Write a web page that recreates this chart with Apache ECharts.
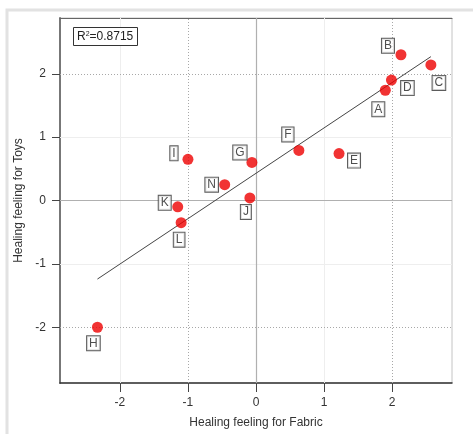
<!DOCTYPE html>
<html>
<head>
<meta charset="utf-8">
<script src="https://cdn.jsdelivr.net/npm/echarts@6/dist/echarts.min.js"></script>
<style>html,body{margin:0;padding:0;background:#fff}#c{width:473px;height:434px}</style>
</head>
<body>
<div id="c"></div>
<script>
// ---- data ----
var names   = ['A', 'B', 'C', 'D', 'E', 'F', 'G', 'H', 'I', 'J', 'K', 'L', 'N'];
var fabric  = [1.90, 2.13, 2.57, 1.99, 1.22, 0.63, -0.06, -2.33, -1.00, -0.09, -1.15, -1.10, -0.46];
var toys    = [1.74, 2.30, 2.14, 1.90, 0.74, 0.79, 0.60, -2.00, 0.65, 0.04, -0.10, -0.35, 0.25];
var fitX    = [-2.33, 2.57];
var fitY    = [-1.24, 2.27];
var xTicks  = [-2, -1, 0, 1, 2];
var yTicks  = [-2, -1, 0, 1, 2];
var rSquared = '0.8715';

// ---- layout / style (not data) ----
var labelOffsets = {
  A: [-7, 19], B: [-13, -9], C: [8, 18], D: [16, 8], E: [15, 7], F: [-11, -16],
  G: [-12, -10], H: [-4, 16], I: [-14, -6], J: [-4, 14], K: [-13, -4], L: [-2, 17], N: [-13, 0]
};
var dottedX = [-1, 2], faintX = [-2, 1];
var dottedY = [-2, 2], faintY = [-1, 1];

var font = 'Liberation Sans, Arial, sans-serif';
var chart = echarts.init(document.getElementById('c'), null, {renderer: 'canvas'});

var pts = names.map(function (n, i) {
  return {name: n, value: [fabric[i], toys[i]], label: {offset: labelOffsets[n]}};
});

var gridLines = [];
dottedX.forEach(function (v) { gridLines.push({xAxis: v, lineStyle: {color: '#a8a8a8', type: [1, 2], width: 1}}); });
faintX.forEach(function (v) { gridLines.push({xAxis: v, lineStyle: {color: '#eeeeee', type: 'solid', width: 1}}); });
dottedY.forEach(function (v) { gridLines.push({yAxis: v, lineStyle: {color: '#a8a8a8', type: [1, 2], width: 1}}); });
faintY.forEach(function (v) { gridLines.push({yAxis: v, lineStyle: {color: '#eeeeee', type: 'solid', width: 1}}); });
gridLines.push({xAxis: 0, lineStyle: {color: '#b0b0b0', type: 'solid', width: 1.2}});
gridLines.push({yAxis: 0, lineStyle: {color: '#b0b0b0', type: 'solid', width: 1.2}});

var axisCommon = {
  type: 'value', min: -2.88, max: 2.88,
  splitLine: {show: false},
  nameLocation: 'middle',
  nameTextStyle: {fontFamily: font, fontSize: 12, color: '#333'}
};

chart.setOption({
  animation: false,
  backgroundColor: '#fff',
  graphic: [{
    type: 'rect', z: -10,
    shape: {x: 7, y: 10, width: 520, height: 480},
    style: {fill: 'none', stroke: '#e2e2e2', lineWidth: 3}
  }],
  title: {
    text: 'R{s|2}=' + rSquared,
    left: 73, top: 27,
    padding: [4, 4, 3, 4],
    borderColor: '#333', borderWidth: 1, backgroundColor: '#fff',
    textStyle: {
      fontFamily: font, fontSize: 12, fontWeight: 'normal', color: '#222',
      rich: {s: {fontSize: 7, verticalAlign: 'top', padding: [0, 0, 5, 0], fontFamily: font, color: '#222'}}
    }
  },
  grid: {left: 60, top: 18, width: 392, height: 365, show: true, borderColor: '#c4c4c4', borderWidth: 1},
  xAxis: [
    Object.assign({}, axisCommon, {
      position: 'bottom',
      name: 'Healing feeling for Fabric', nameGap: 34,
      axisLine: {show: true, onZero: false, lineStyle: {color: '#333', width: 1.5}},
      axisTick: {show: true, inside: false, length: 9, customValues: xTicks, lineStyle: {color: '#444', width: 1}},
      axisLabel: {customValues: xTicks, margin: 14, fontFamily: font, fontSize: 12, color: '#333'}
    }),
    Object.assign({}, axisCommon, {
      position: 'top',
      axisLine: {show: true, onZero: false, lineStyle: {color: '#666', width: 1}},
      axisTick: {show: false}, axisLabel: {show: false}
    })
  ],
  yAxis: [Object.assign({}, axisCommon, {
    position: 'left',
    name: 'Healing feeling for Toys', nameGap: 31,
    axisLine: {show: true, onZero: false, lineStyle: {color: '#777', width: 2}},
    axisTick: {show: true, inside: false, length: 8, customValues: yTicks, lineStyle: {color: '#444', width: 1}},
    axisLabel: {customValues: yTicks, margin: 14, fontFamily: font, fontSize: 12, color: '#333'}
  })],
  series: [
    {
      type: 'line', data: [], silent: true, z: 1,
      markLine: {silent: true, z: 1, symbol: ['none', 'none'], label: {show: false}, animation: false, data: gridLines}
    },
    {
      type: 'line', z: 6, silent: true, symbol: 'none',
      data: fitX.map(function (x, i) { return [x, fitY[i]]; }),
      lineStyle: {color: '#444', width: 1}
    },
    {
      type: 'scatter', z: 7, symbolSize: 11,
      itemStyle: {color: '#ee0000'},
      data: pts,
      label: {
        show: true, position: 'inside', formatter: '{b}',
        fontFamily: font, fontSize: 12, color: '#222',
        backgroundColor: '#fff', borderColor: '#333', borderWidth: 1,
        padding: [2, 2, 0, 2]
      }
    }
  ]
});
</script>
</body>
</html>
